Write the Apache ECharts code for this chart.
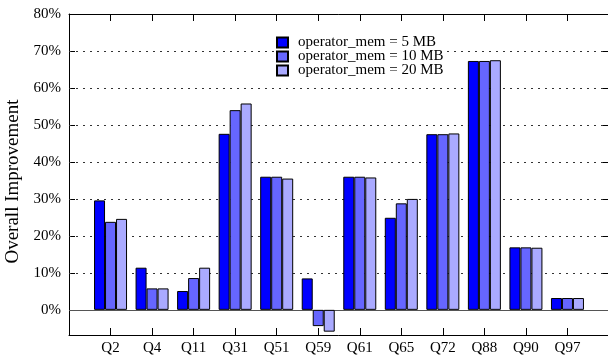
<!DOCTYPE html>
<html>
<head>
<meta charset="utf-8">
<script src="https://cdn.jsdelivr.net/npm/echarts@6/dist/echarts.min.js"></script>
<style>
  html, body { margin: 0; padding: 0; background: #fff; }
  #chart { width: 608px; height: 358px; }
</style>
</head>
<body>
<div id="chart"></div>
<script>
// TPC-DS queries and the overall improvement (%) for each operator memory budget
const categories = ['Q2', 'Q4', 'Q11', 'Q31', 'Q51', 'Q59', 'Q61', 'Q65', 'Q72', 'Q88', 'Q90', 'Q97'];
const mem5MB  = [29.6, 11.4, 5.1, 47.6, 36.0, 8.5, 36.0, 24.9, 47.5, 67.3, 16.9, 3.2];
const mem10MB = [23.8, 5.8, 8.6, 54.0, 36.0, -4.4, 36.0, 28.8, 47.5, 67.3, 16.9, 3.2];
const mem20MB = [24.6, 5.8, 11.4, 55.8, 35.5, -5.9, 35.8, 30.0, 47.7, 67.5, 16.8, 3.2];
const seriesNames = ['operator_mem = 5 MB', 'operator_mem = 10 MB', 'operator_mem = 20 MB'];
const seriesColors = ['#0000ff', '#6666ff', '#aaaaff'];
const yTicks = [0, 10, 20, 30, 40, 50, 60, 70, 80];
const gridTicks = [10, 20, 30, 40, 50, 60, 70];

const FONT = 'Liberation Serif, Times New Roman, serif';
const chart = echarts.init(document.getElementById('chart'), null, { renderer: 'canvas' });

const catIdx = categories.map((_, i) => i);

function xAxisBase(pos, showLabel) {
  return {
    type: 'value', position: pos, min: -1, max: 12, interval: 1,
    axisLine: { show: true, onZero: false, lineStyle: { color: '#000', width: 1 } },
    axisTick: { show: true, inside: true, length: 7, customValues: catIdx, lineStyle: { color: '#000' } },
    axisLabel: {
      show: showLabel, margin: 6, color: '#000', fontFamily: FONT, fontSize: 15,
      customValues: catIdx,
      formatter: v => categories[v] || ''
    },
    splitLine: { show: false }
  };
}
function yAxisBase(pos, showLabel) {
  return {
    type: 'value', position: pos, min: -6.8, max: 80,
    axisLine: { show: true, onZero: false, lineStyle: { color: '#000', width: 1 } },
    axisTick: { show: true, inside: true, length: 6, customValues: yTicks, lineStyle: { color: '#000' } },
    axisLabel: {
      show: showLabel, margin: 8, color: '#000', fontFamily: FONT, fontSize: 15,
      customValues: yTicks, formatter: v => v + '%'
    },
    splitLine: { show: false }
  };
}

const yLeft = yAxisBase('left', true);
yLeft.name = 'Overall Improvement';
yLeft.nameLocation = 'middle';
yLeft.nameGap = 45;
yLeft.nameTextStyle = { color: '#000', fontFamily: FONT, fontSize: 19, padding: [0, 14, 0, 0] };

const gridLineData = gridTicks.map(v => ({ yAxis: v }));

function barSeries(k, values) {
  const s = {
    name: seriesNames[k],
    type: 'bar',
    xAxisIndex: 0, yAxisIndex: 0,
    barWidth: 11,
    barGap: '0%',
    z: 2,
    itemStyle: { color: seriesColors[k], borderColor: '#000', borderWidth: 1 },
    data: values.map((v, i) => [i, v])
  };
  if (k === 0) {
    // dotted horizontal grid and the solid zero line, kept behind the bars
    s.markLine = {
      silent: true, symbol: 'none', z: 1,
      label: { show: false },
      lineStyle: { color: '#333', width: 1, type: [2, 5] },
      data: gridLineData.concat([{ yAxis: 0, lineStyle: { type: 'solid', color: '#555', width: 1 } }])
    };
  }
  return s;
}

chart.setOption({
  animation: false,
  backgroundColor: '#fff',
  grid: { left: 69, right: -1, top: 14, bottom: 23, containLabel: false, outerBoundsMode: 'none' },
  legend: {
    orient: 'vertical',
    left: 274, top: 34,
    icon: 'rect',
    itemWidth: 11, itemHeight: 10, itemGap: -1,
    backgroundColor: '#fff',
    padding: [1, 3, 1, 2],
    z: 4,
    selectedMode: false,
    textStyle: { color: '#000', fontFamily: FONT, fontSize: 15, padding: [0, 0, 0, 5] },
    data: seriesNames
  },
  xAxis: [xAxisBase('bottom', true), xAxisBase('top', false)],
  yAxis: [yLeft, yAxisBase('right', false)],
  series: [barSeries(0, mem5MB), barSeries(1, mem10MB), barSeries(2, mem20MB)]
});
</script>
</body>
</html>
